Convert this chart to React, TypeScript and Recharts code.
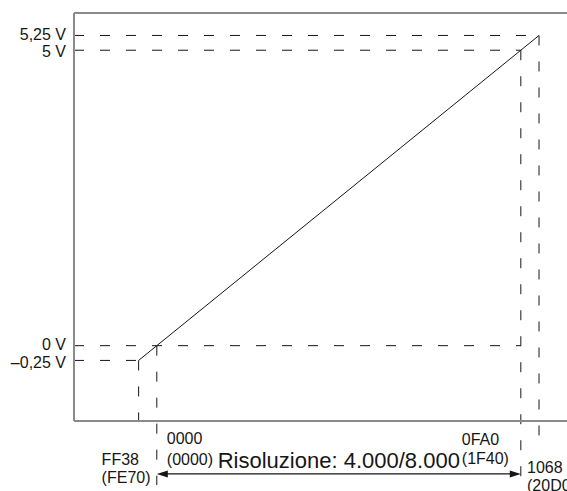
import React from 'react';
import { Line, LineChart, ReferenceLine, XAxis, YAxis } from 'recharts';

// converter codes (4.000 resolution) and the matching output voltage
const codes = [-200, 0, 4000, 4200];
const volts = [-0.25, 0, 5, 5.25];
const codeLabels = ['FF38', '0000', '0FA0', '1068'];
const codeLabels8000 = ['(FE70)', '(0000)', '(1F40)', '(20D0)'];
const voltLabels = ['–0,25 V', '0 V', '5 V', '5,25 V'];
const resolutionNote = 'Risoluzione: 4.000/8.000';

const data = codes.map((code, i) => ({ code, volt: volts[i] }));

// layout
const X_DOMAIN = [-910, 4980];
const Y_DOMAIN = [-1.275, 5.63];
const FONT = '"Liberation Sans", Arial, Helvetica, sans-serif';
const FRAME = '#8a8a8a';
const INK = '#161616';
const DASH = '10 16';

// horizontal guides: [volt index, code index where it stops]
const hGuides = [
  [3, 3],
  [2, 2],
  [1, 2],
  [0, 0],
];
// vertical guides run down from the point to this level (below the frame)
const guideDrop = [-1.275, -2.36, -2.7, -1.65];
const arrowLevel = -2.17;

// label placement relative to each tick
const tickLayout = [
  { dx: -37, dy1: 44, dy2: 62 },
  { dx: 10, dy1: 23, dy2: 44 },
  { dx: -59, dy1: 24, dy2: 43 },
  { dx: -12, dy1: 52, dy2: 70 },
];
// small vertical nudges so the close voltage labels don't touch
const voltNudge = [1.5, -1.7, 1, -1.5];

const CodeTick = (props: any) => {
  const { x, y, payload } = props;
  const i = codes.indexOf(payload.value);
  if (i < 0) return null;
  const l = tickLayout[i];
  return (
    <g fontFamily={FONT} fontSize={16} fill={INK}>
      <text x={x + l.dx} y={y + l.dy1} textAnchor="start" fill={INK}>
        {codeLabels[i]}
      </text>
      <text x={x + l.dx} y={y + l.dy2} textAnchor="start" fill={INK}>
        {codeLabels8000[i]}
      </text>
    </g>
  );
};

const VoltTick = (props: any) => {
  const { x, y, payload } = props;
  const i = volts.indexOf(payload.value);
  if (i < 0) return null;
  return (
    <text
      x={x}
      y={y + voltNudge[i]}
      dy="0.355em"
      textAnchor="end"
      fontFamily={FONT}
      fontSize={16}
      fill={INK}
    >
      {voltLabels[i]}
    </text>
  );
};

const ResolutionArrow = (props: any) => {
  const { x1, y1, x2, y2 } = props;
  const mid = (x1 + x2) / 2;
  return (
    <g>
      <line x1={x1 + 8} y1={y1} x2={x2 - 8} y2={y2} stroke={INK} strokeWidth={1.2} />
      <path d={`M${x1},${y1} l11,-3.5 v7 z`} fill={INK} />
      <path d={`M${x2},${y2} l-11,-3.5 v7 z`} fill={INK} />
      <text x={mid} y={y1 - 6} textAnchor="middle" fontFamily={FONT} fontSize={22} fill={INK}>
        {resolutionNote}
      </text>
    </g>
  );
};

export default function App() {
  return (
    <div
      style={{
        position: 'absolute',
        left: 0,
        top: 0,
        width: 567,
        height: 491,
        overflow: 'hidden',
        background: '#fff',
      }}
    >
      <LineChart width={620} height={491} data={data} margin={{ top: 13, right: 10, bottom: 0, left: 0 }}>
        <XAxis
          dataKey="code"
          type="number"
          domain={X_DOMAIN}
          allowDataOverflow
          ticks={codes}
          height={70}
          tickSize={0}
          tickMargin={0}
          tickLine={false}
          axisLine={{ stroke: FRAME, strokeWidth: 2 }}
          tick={<CodeTick />}
          interval={0}
        />
        <YAxis
          type="number"
          domain={Y_DOMAIN}
          allowDataOverflow
          ticks={volts}
          width={74}
          tickSize={0}
          tickMargin={8}
          tickLine={false}
          interval={0}
          axisLine={{ stroke: FRAME, strokeWidth: 2 }}
          tick={<VoltTick />}
        />
        <ReferenceLine y={Y_DOMAIN[1]} stroke={FRAME} strokeWidth={2} ifOverflow="visible" />

        {hGuides.map(([vi, ci]) => (
          <ReferenceLine
            key={`h${vi}`}
            segment={[
              { x: X_DOMAIN[0], y: volts[vi] },
              { x: codes[ci], y: volts[vi] },
            ]}
            stroke={INK}
            strokeWidth={1}
            strokeDasharray={DASH}
            ifOverflow="visible"
          />
        ))}
        {codes.map((c, i) => (
          <ReferenceLine
            key={`v${i}`}
            segment={[
              { x: c, y: volts[i] },
              { x: c, y: guideDrop[i] },
            ]}
            stroke={INK}
            strokeWidth={1}
            strokeDasharray={DASH}
            ifOverflow="visible"
          />
        ))}
        <ReferenceLine
          segment={[
            { x: codes[1], y: arrowLevel },
            { x: codes[2], y: arrowLevel },
          ]}
          ifOverflow="visible"
          shape={<ResolutionArrow />}
        />

        <Line
          dataKey="volt"
          type="linear"
          stroke={INK}
          strokeWidth={1}
          dot={false}
          activeDot={false}
          isAnimationActive={false}
        />
      </LineChart>
    </div>
  );
}
